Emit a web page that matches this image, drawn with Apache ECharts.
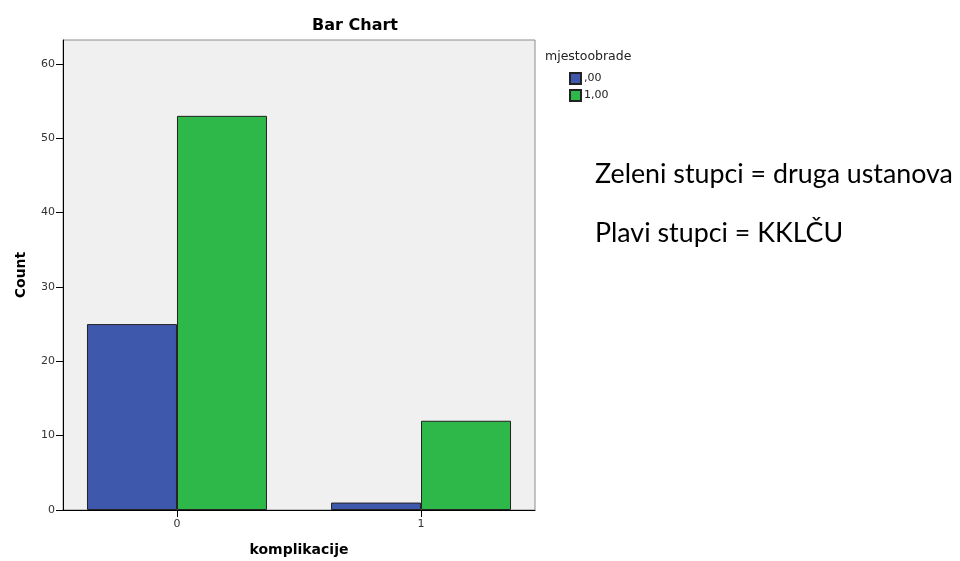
<!DOCTYPE html>
<html>
<head>
<meta charset="utf-8">
<script src="https://cdn.jsdelivr.net/npm/echarts@6/dist/echarts.min.js"></script>
<style>
html, body { margin: 0; padding: 0; background: #fff; }
#chart { width: 960px; height: 561px; }
</style>
</head>
<body>
<div id="chart"></div>
<script>
// data
var categories = [0, 1];
var seriesNames = [",00", "1,00"];
var blueValues = [25, 1];
var greenValues = [53, 12];
var yTicks = [0, 10, 20, 30, 40, 50, 60];

var myChart = echarts.init(document.getElementById("chart"));
var font = "DejaVu Sans, Verdana, sans-serif";

function pairs(values) {
    return categories.map(function (c, i) { return [c, values[i]]; });
}

var option = {
    animation: false,
    legend: {
        orient: "vertical",
        left: 569,
        top: 72,
        padding: 0,
        itemWidth: 11,
        itemHeight: 11,
        itemGap: 4,
        icon: "rect",
        data: seriesNames,
        textStyle: { fontFamily: font, fontSize: 11, color: "#222", padding: [0, 0, 0, -2] }
    },
    grid: {
        left: 63,
        right: 425,
        top: 40,
        bottom: 51,
        outerBoundsMode: "none",
        show: true,
        backgroundColor: "#F0F0F0",
        borderColor: "#8c8c8c",
        borderWidth: 1
    },
    xAxis: {
        type: "value",
        min: -0.467,
        max: 1.467,
        name: "komplikacije",
        nameLocation: "middle",
        nameGap: 33,
        nameTextStyle: { fontFamily: font, fontSize: 14, fontWeight: "bold", color: "#000" },
        splitLine: { show: false },
        axisLine: { show: true, onZero: false, lineStyle: { color: "#000", width: 1 } },
        axisTick: { show: true, length: 7, customValues: categories, lineStyle: { color: "#000" } },
        axisLabel: { fontFamily: font, fontSize: 11, color: "#333", margin: 9, customValues: categories }
    },
    yAxis: {
        type: "value",
        min: 0,
        max: 63.2,
        interval: 10,
        name: "Count",
        nameLocation: "middle",
        nameGap: 35,
        nameTextStyle: { fontFamily: font, fontSize: 14, fontWeight: "bold", color: "#000" },
        splitLine: { show: false },
        axisLine: { show: true, onZero: false, lineStyle: { color: "#000", width: 1 } },
        axisTick: { show: true, length: 7, customValues: yTicks, lineStyle: { color: "#000" } },
        axisLabel: { fontFamily: font, fontSize: 11, color: "#333", margin: 8, customValues: yTicks }
    },
    series: [
        {
            name: seriesNames[0],
            type: "bar",
            data: pairs(blueValues),
            barWidth: 90,
            barGap: "0%",
            itemStyle: { color: "#3E58AC", borderColor: "#222", borderWidth: 1 }
        },
        {
            name: seriesNames[1],
            type: "bar",
            data: pairs(greenValues),
            barWidth: 90,
            barGap: "0%",
            itemStyle: { color: "#2FB84A", borderColor: "#222", borderWidth: 1 }
        }
    ],
    graphic: [
        {
            type: "text",
            x: 355,
            y: 26,
            style: { text: "Bar Chart", font: "bold 16px 'DejaVu Sans'", fill: "#000", align: "center", verticalAlign: "middle" }
        },
        {
            type: "text",
            x: 545,
            y: 57,
            style: { text: "mjestoobrade", font: "12.5px 'DejaVu Sans'", fill: "#222", align: "left", verticalAlign: "middle" }
        },
        {
            type: "text",
            x: 595,
            y: 174,
            style: { text: "Zeleni stupci = druga ustanova", font: "26.8px Lato, 'Open Sans', sans-serif", fill: "#000", verticalAlign: "middle" }
        },
        {
            type: "text",
            x: 595,
            y: 233,
            style: { text: "Plavi stupci = KKLČU", font: "26.8px Lato, 'Open Sans', sans-serif", fill: "#000", verticalAlign: "middle" }
        }
    ]
};
myChart.setOption(option);
</script>
</body>
</html>
